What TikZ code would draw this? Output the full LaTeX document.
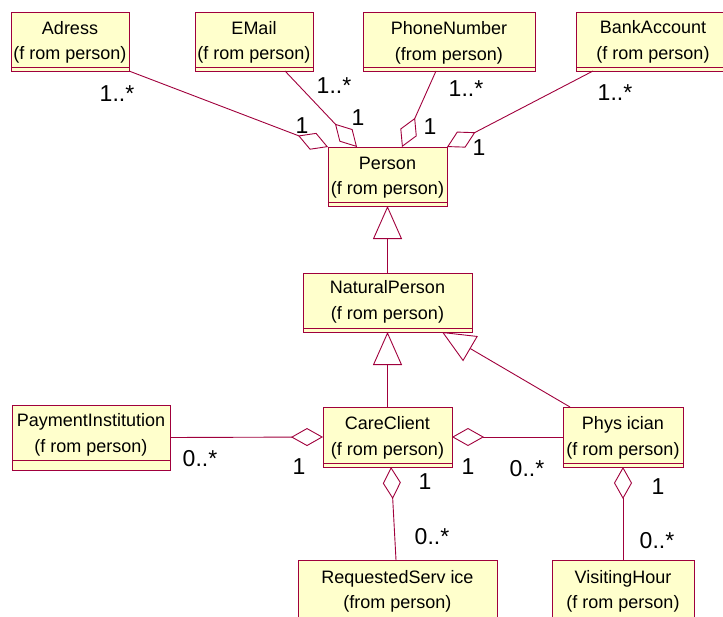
\documentclass[tikz,border=0pt]{standalone}
\usepackage{fontspec}
\setmainfont{Liberation Sans}
\usetikzlibrary{arrows.meta}
\definecolor{umlred}{RGB}{160,0,60}
\definecolor{umlfill}{RGB}{255,255,204}

% class box: name, left, top, width, height, compartment gap above the bottom edge
\newcommand\classbox[6]{%
  \node[cls, minimum width=#4pt, minimum height=#5pt] (#1) at (#2,#3) {};
  \draw[link] ([yshift=#6pt]#1.south west) -- ([yshift=#6pt]#1.south east);}

\begin{document}
\begin{tikzpicture}[x=1pt,y=-1pt,
  cls/.style={draw=umlred, fill=umlfill, line width=0.9pt, inner sep=0pt, outer sep=0pt, anchor=north west},
  ctext/.style={align=center, font=\fontsize{18}{25.5}\selectfont, inner sep=0pt},
  mult/.style={font=\fontsize{23}{23}\selectfont, inner sep=0pt},
  link/.style={draw=umlred, line width=0.9pt},
  agg/.style={link, -{Diamond[open, length=32pt, width=18pt]}},
  gen/.style={link, -{Triangle[open, length=33pt, width=29pt]}},
]
\useasboundingbox (0,0) rectangle (723,616);
\clip (0,0) rectangle (723,616);

% classes
\classbox{adr}{11}{12}{118}{59}{4}
\classbox{eml}{195}{12}{118}{59}{4}
\classbox{phn}{363}{12}{172}{59}{4}
\classbox{bnk}{576}{12}{156}{59}{4}
\classbox{per}{328}{147}{119}{59}{4}
\classbox{nat}{303}{273}{169}{59}{4}
\classbox{pay}{12}{405}{158}{65}{10}
\classbox{care}{323}{407}{129}{60}{4}
\classbox{phy}{563}{407}{120}{60}{4}
\classbox{req}{298}{560}{199}{66}{4}
\classbox{vis}{552}{560}{142}{66}{4}

% class names
\node[ctext] (adr-t)  at (70,42.5)    {Adress\\(f rom person)};
\node[ctext] (eml-t)  at (254,42.5)   {EMail\\(f rom person)};
\node[ctext] (phn-t)  at (449,43)     {PhoneNumber\\(from person)};
\node[ctext] (bnk-t)  at (653,42)     {BankAccount\\(f rom person)};
\node[ctext] (per-t)  at (387.5,177.5) {Person\\(f rom person)};
\node[ctext] (nat-t)  at (387.5,302)  {NaturalPerson\\(f rom person)};
\node[ctext] (pay-t)  at (91,435)     {PaymentInstitution\\(f rom person)};
\node[ctext] (care-t) at (387.5,438)  {CareClient\\(f rom person)};
\node[ctext] (phy-t)  at (623,438)    {Phys ician\\(f rom person)};
\node[ctext] (req-t)  at (397.5,591.5) {RequestedServ ice\\(from person)};
\node[ctext] (vis-t)  at (623,591.5)  {VisitingHour\\(f rom person)};

% aggregations into Person
\draw[agg] (adr.south east) -- (per.north west);
\draw[agg] ([xshift=-28pt]eml.south east) -- ([xshift=29pt]per.north west);
\draw[agg] ([xshift=73pt]phn.south west) -- ([xshift=-45pt]per.north east);
\draw[agg] ([xshift=17pt]bnk.south west) -- (per.north east);

% generalizations
\draw[gen] (nat.north) -- (per.south);
\draw[gen] (care.north) -- (nat.south);
\draw[gen] ([xshift=7pt]phy.north west) -- ([xshift=-30pt]nat.south east);

% lower aggregations
\draw[agg] (pay.east) -- (care.west);
\draw[agg] (phy.west) -- (care.east);
\draw[agg] ([xshift=-1.5pt]req.north) -- ([xshift=3.5pt]care.south);
\draw[agg] (vis.north) -- (phy.south);

% multiplicities
\node[mult] (m-adr)  at (117,94)  {1..*};
\node[mult] (m-adr1) at (302,126) {1};
\node[mult] (m-eml)  at (334,86)  {1..*};
\node[mult] (m-eml1) at (358,118) {1};
\node[mult] (m-phn)  at (466,89)  {1..*};
\node[mult] (m-phn1) at (430,127) {1};
\node[mult] (m-bnk)  at (615,93)  {1..*};
\node[mult] (m-bnk1) at (479,148) {1};
\node[mult] (m-pay)  at (200,459) {0..*};
\node[mult] (m-cl)   at (299,467) {1};
\node[mult] (m-cb)   at (425,482) {1};
\node[mult] (m-cr)   at (468,467) {1};
\node[mult] (m-phy)  at (527,469) {0..*};
\node[mult] (m-phb)  at (658,487) {1};
\node[mult] (m-req)  at (432,537) {0..*};
\node[mult] (m-vis)  at (657,541) {0..*};
\end{tikzpicture}
\end{document}
